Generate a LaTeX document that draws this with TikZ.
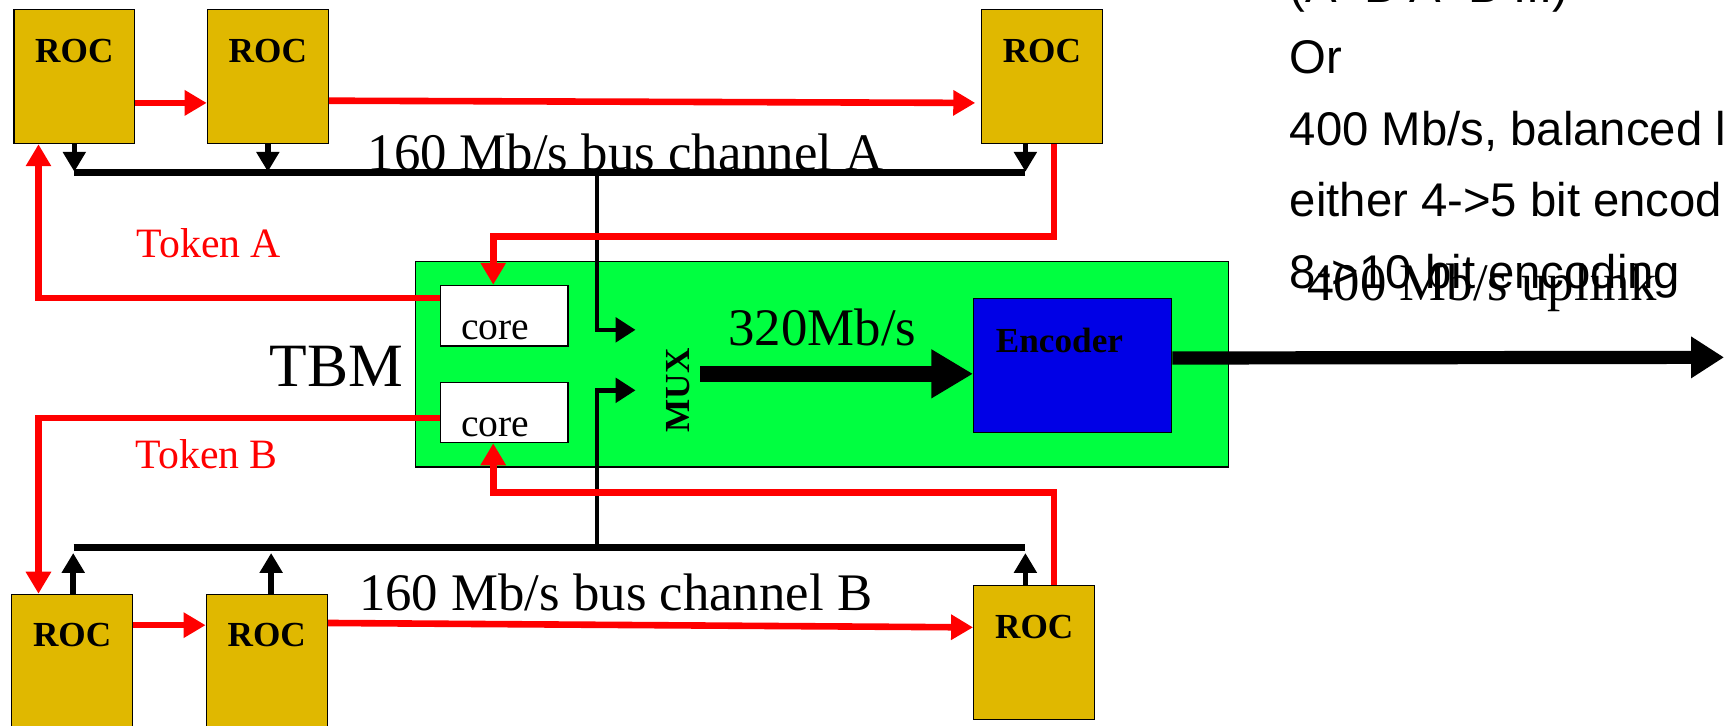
\documentclass[tikz,border=0pt]{standalone}
\usepackage{fontspec}
\setmainfont{Liberation Serif}
\newfontfamily\arialf{Liberation Sans}
\usetikzlibrary{arrows.meta}
\definecolor{rocgold}{RGB}{224,184,0}
\definecolor{tbmgreen}{RGB}{0,255,64}
\definecolor{encblue}{RGB}{0,0,230}
\definecolor{tokred}{RGB}{255,0,0}
\tikzset{
  rocbox/.style={draw=black, line width=1.2pt, fill=rocgold, anchor=north west, inner sep=0,
    minimum width=110pt, minimum height=122pt},
  roclbl/.style={font=\bfseries\fontsize{32}{36}\selectfont, inner sep=0},
  corebox/.style={draw=black, line width=1.2pt, fill=white, anchor=north west, inner sep=0,
    minimum width=116pt, minimum height=55pt},
  corelbl/.style={font=\fontsize{36}{40}\selectfont, inner sep=0, anchor=base},
  bigtxt/.style={font=\fontsize{48}{56}\selectfont, inner sep=0, anchor=base},
  toklbl/.style={font=\fontsize{38}{44}\selectfont, text=tokred, inner sep=0, anchor=base},
  sidetxt/.style={font=\arialf\fontsize{43}{50}\selectfont, inner sep=0, anchor=base west},
  redarr/.style={draw=tokred, line width=6pt, -{Triangle[length=20pt,width=22pt]}},
  busarr/.style={draw=black, line width=5pt, -{Triangle[length=18pt,width=20pt]}},
  busline/.style={draw=black, line width=7pt},
  muxarr/.style={draw=black, line width=4pt, -{Triangle[length=18pt,width=22pt]}},
  fatarr/.style={draw=black, line width=14pt, -{Triangle[length=38pt,width=42pt]}},
  outarr/.style={draw=black, line width=12pt, -{Triangle[length=30pt,width=36pt]}},
}
\begin{document}
\begin{tikzpicture}[x=1pt,y=-1pt]
\useasboundingbox (0,0) rectangle (1568,660);
\fill[white] (0,0) rectangle (1568,660);

% TBM box
\node[draw=black, line width=1.2pt, fill=tbmgreen, anchor=north west, inner sep=0,
  minimum width=740pt, minimum height=187pt] (tbm) at (377,237) {};
\node[font=\fontsize{56}{64}\selectfont, inner sep=0, anchor=east] (tbmt) at ([xshift=-10pt,yshift=-2pt]tbm.west) {TBM};

% cores
\node[corebox] (c1) at (400,259) {};
\node[corebox] (c2) at (400,347) {};
\node[corelbl] (c1t) at ([xshift=-8pt,yshift=6pt]c1.south) {core};
\node[corelbl] (c2t) at ([xshift=-8pt,yshift=6pt]c2.south) {core};

% encoder
\node[draw=black, line width=1.2pt, fill=encblue, anchor=north west, inner sep=0,
  minimum width=180pt, minimum height=122pt] (enc) at (885,271) {};
\node[font=\bfseries\fontsize{32}{36}\selectfont, inner sep=0] (enct) at ([xshift=-12pt,yshift=-39pt]enc.north) {Encoder};

% MUX
\node[font=\bfseries\fontsize{32}{36}\selectfont, inner sep=0, rotate=90] (mux) at (617,355) {MUX};
\node[bigtxt] (rate) at (748,314) {320Mb/s};

% ROCs
\node[rocbox] (r1) at (12,8) {};
\node[rocbox] (r2) at (188,8) {};
\node[rocbox] (r3) at (892,8) {};
\node[rocbox] (r4) at (10,540) {};
\node[rocbox] (r5) at (187,540) {};
\node[rocbox] (r6) at (885,532) {};
\node[roclbl] (r1t) at ([yshift=-38pt]r1.north) {ROC};
\node[roclbl] (r2t) at ([yshift=-38pt]r2.north) {ROC};
\node[roclbl] (r3t) at ([yshift=-38pt]r3.north) {ROC};
\node[roclbl] (r4t) at ([yshift=-38pt]r4.north) {ROC};
\node[roclbl] (r5t) at ([yshift=-38pt]r5.north) {ROC};
\node[roclbl] (r6t) at ([yshift=-38pt]r6.north) {ROC};

% bus A
\coordinate (busAw) at (67,157);
\coordinate (busAe) at (932,157);
\coordinate (busAtap) at (543,157);
\coordinate (muxAin) at (578,300);
\draw[busline] (busAw) -- (busAe);
\draw[busarr] (r1.south) -- ++(0,25);
\draw[busarr] (r2.south) -- ++(0,25);
\draw[busarr] ([xshift=-15pt]r3.south) -- ++(0,25);
\draw[muxarr] (busAtap) |- (muxAin);
\node[bigtxt] (busAt) at (569,155) {160 Mb/s bus channel A};

% bus B
\coordinate (busBw) at (67,498);
\coordinate (busBe) at (932,498);
\coordinate (busBtap) at (543,498);
\coordinate (muxBin) at (578,355);
\draw[busline] (busBw) -- (busBe);
\draw[busarr] ([xshift=1pt]r4.north) -- ++(0,-37);
\draw[busarr] ([xshift=4pt]r5.north) -- ++(0,-37);
\draw[busarr] ([xshift=-8pt]r6.north) -- ++(0,-29);
\draw[muxarr] (busBtap) |- (muxBin);
\node[bigtxt] (busBt) at (560,555) {160 Mb/s bus channel B};

% MUX to encoder, output
\coordinate (muxout) at (637,340);
\draw[fatarr] (muxout) -- (muxout -| enc.west);
\coordinate (outend) at (1568,325);
\draw[outarr] ([yshift=7pt]enc.east) -- (outend);

% token ring A
\draw[redarr] ([yshift=-24pt]r1.east) -- ([yshift=-24pt]r2.west);
\draw[redarr] ([yshift=-22pt]r2.east) -- ([xshift=-5pt,yshift=-24pt]r3.west);
\draw[redarr] ([xshift=11pt]r3.south) -- ++(0,84) -| ([xshift=-10pt]c1.north);
\draw[redarr] ([yshift=16pt]c1.west) -| ([xshift=23pt]r1.south west);
\node[toklbl] (tokA) at (190,234) {Token A};

% token ring B
\draw[redarr] ([yshift=33pt]r4.east) -- ([yshift=33pt]r5.west);
\draw[redarr] ([yshift=35pt]r5.east) -- ([yshift=23pt]r6.west);
\draw[redarr] ([xshift=18pt]r6.north) -- ++(0,-84) -| ([xshift=-10pt]c2.south);
\draw[redarr] ([yshift=-5pt]c2.west) -| ([xshift=25pt]r4.north west);
\node[toklbl] (tokB) at (188,426) {Token B};

% side text
\node[sidetxt] (s1) at (1173,2) {(A+B A+B ...)};
\node[sidetxt] (s2) at (1173,67) {Or};
\node[sidetxt] (s3) at (1173,132.5) {400 Mb/s, balanced line};
\node[sidetxt] (s4) at (1173,197) {either 4->5 bit encoding or};
\node[sidetxt] (s5) at (1173,262) {8->10 bit encoding};
\node[font=\fontsize{48}{56}\selectfont, inner sep=0, anchor=base west] (upl) at (1189,273) {400 Mb/s uplink};
\end{tikzpicture}
\end{document}
